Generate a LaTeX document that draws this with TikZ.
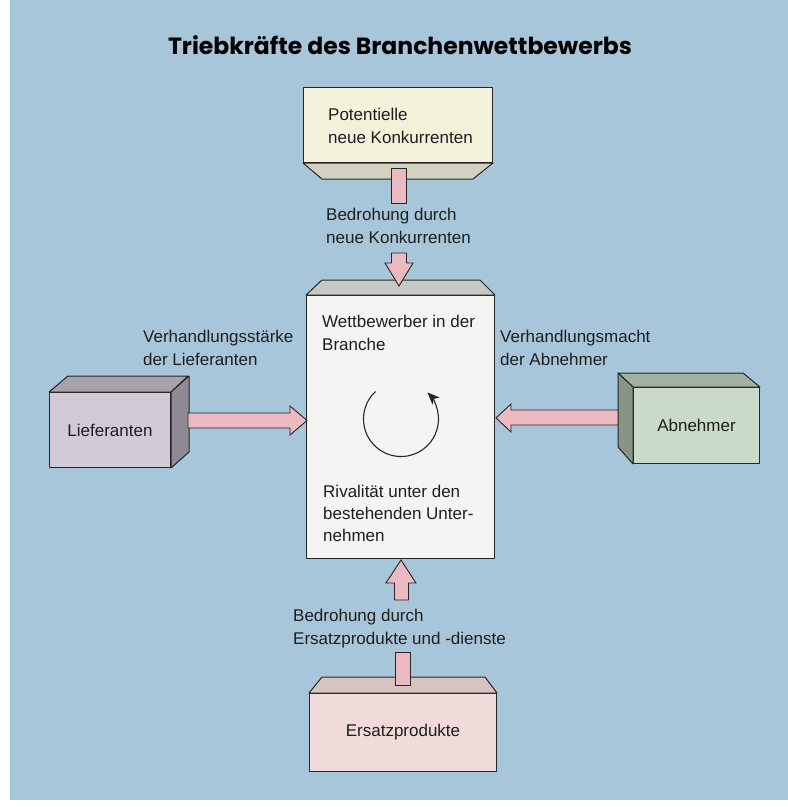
\documentclass[tikz,border=0pt]{standalone}
\usepackage{fontspec}
\setmainfont{Liberation Sans}
\newfontfamily\titlefont{Poppins}
\usetikzlibrary{arrows.meta}

\definecolor{bgblue}{HTML}{A8C6DA}
\definecolor{inkline}{HTML}{262626}
\definecolor{inktext}{HTML}{1E1E1E}
\definecolor{arrowpink}{HTML}{EBB9C2}
\definecolor{potfront}{HTML}{F3F1DA}
\definecolor{potbottom}{HTML}{D3D1C0}
\definecolor{wettfront}{HTML}{F4F5F2}
\definecolor{wetttop}{HTML}{C6C8C6}
\definecolor{lieffront}{HTML}{D2CAD6}
\definecolor{lieftop}{HTML}{A8A2AC}
\definecolor{liefside}{HTML}{8F8A94}
\definecolor{abnfront}{HTML}{CADBC9}
\definecolor{abntop}{HTML}{A2B1A1}
\definecolor{abnside}{HTML}{879486}
\definecolor{ersfront}{HTML}{F1DADA}
\definecolor{erstop}{HTML}{D9C3C1}

\tikzset{
  face/.style={draw=inkline,line width=1pt,line join=round},
  front/.style={face,anchor=north west,inner sep=0pt,text=inktext,
    font=\fontsize{17}{23}\selectfont},
  lbl/.style={anchor=base west,inner sep=0pt,text=inktext,
    font=\fontsize{17}{23}\selectfont},
  blockarrow/.style={draw=inkline,line width=0.9pt,fill=arrowpink,line join=miter}
}

\begin{document}
\begin{tikzpicture}[x=1pt,y=-1pt]
\fill[white] (0,0) rectangle (788,807);
\fill[bgblue] (10,0) rectangle (788,800);
\useasboundingbox (0,0) rectangle (788,807);

\node (title) [text=black,font=\titlefont\bfseries\fontsize{23.5}{28}\selectfont] at (400,45) {Triebkräfte des Branchenwettbewerbs};

% potentielle Konkurrenten
\node (pot) [front,fill=potfront,minimum width=189,minimum height=75] at (303,87) {};
\filldraw[face,fill=potbottom] (pot.south west) -- ++(19,16) -- ++(151,0) -- (pot.south east) -- cycle;
\node (pot1) [lbl] at (328,120) {Potentielle};
\node (pot2) [lbl] at (328,143) {neue Konkurrenten};

% Wettbewerber in der Branche
\node (wett) [front,fill=wettfront,minimum width=188,minimum height=263] at (306,295) {};
\filldraw[face,fill=wetttop] (wett.north west) -- ++(16,-15) -- ++(158,0) -- (wett.north east) -- cycle;
\node (wett1) [lbl] at (322,327) {Wettbewerber in der};
\node (wett2) [lbl] at (322,350) {Branche};
\node (riv1) [lbl] at (323,497) {Rivalität unter den};
\node (riv2) [lbl] at (323,519) {bestehenden Unter-};
\node (riv3) [lbl] at (323,541) {nehmen};
\coordinate (rot) at (401,419);
\draw[inkline,line width=1.1pt,-{Stealth[length=12pt,width=10pt,inset=3pt]}]
  (rot) ++(-133:37.5) arc[start angle=-133,end angle=-405,radius=37.5];

% Lieferanten
\node (lief) [front,fill=lieffront,minimum width=121,minimum height=75] at (49,392) {Lieferanten};
\filldraw[face,fill=lieftop] (lief.north west) -- ++(19,-16) -- ++(120,0) -- (lief.north east) -- cycle;
\filldraw[face,fill=liefside] (lief.north east) -- ++(18,-16) -- ++(0,76) -- (lief.south east) -- cycle;
\node (vls1) [lbl] at (143,342) {Verhandlungsstärke};
\node (vls2) [lbl] at (143,365) {der Lieferanten};

% Abnehmer
\node (abn) [front,fill=abnfront,minimum width=126,minimum height=76] at (633,387) {Abnehmer};
\filldraw[face,fill=abntop] (abn.north west) -- ++(-15,-14) -- ++(125,0) -- (abn.north east) -- cycle;
\filldraw[face,fill=abnside] (abn.north west) -- ++(-15,-14) -- ++(0,74) -- (abn.south west) -- cycle;
\node (vlm1) [lbl] at (500,342) {Verhandlungsmacht};
\node (vlm2) [lbl] at (500,365) {der Abnehmer};

% Ersatzprodukte
\node (ers) [front,fill=ersfront,minimum width=187,minimum height=78] at (309,693) {Ersatzprodukte};
\filldraw[face,fill=erstop] (ers.north west) -- ++(13,-16) -- ++(163,0) -- (ers.north east) -- cycle;
\node (bed1) [lbl] at (326,220) {Bedrohung durch};
\node (bed2) [lbl] at (326,243) {neue Konkurrenten};
\node (ers1) [lbl] at (293,621) {Bedrohung durch};
\node (ers2) [lbl] at (293,644) {Ersatzprodukte und -dienste};

% Pfeile
\filldraw[blockarrow] (391.5,168) rectangle (406.5,203);
\filldraw[blockarrow] (391.5,253) -- (406.5,253) -- (406.5,263) -- (413,263) -- (399,286)
  -- (385,263) -- (391.5,263) -- cycle;
\filldraw[blockarrow] (188,413) -- (290,413) -- (290,406) -- (307,420.5) -- (290,435)
  -- (290,428) -- (188,428) -- cycle;
\filldraw[blockarrow] (618,410) -- (511,410) -- (511,404) -- (496,418) -- (511,432)
  -- (511,425) -- (618,425) -- cycle;
\filldraw[blockarrow] (394.5,600) -- (394.5,583) -- (386,583) -- (401,560) -- (416,583)
  -- (408.5,583) -- (408.5,600) -- cycle;
\filldraw[blockarrow] (395,652) rectangle (410,685);
\end{tikzpicture}
\end{document}
